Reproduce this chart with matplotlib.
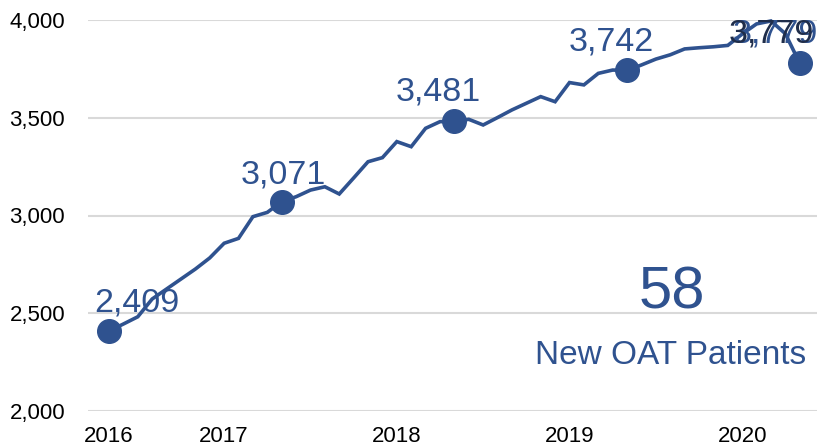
import matplotlib
matplotlib.use("Agg")
import matplotlib.pyplot as plt

plt.rcParams['font.family'] = ['Liberation Sans', 'DejaVu Sans']

# Monthly OAT patient counts (May 2016 .. May 2020)
values = [2409, 2445, 2482, 2573, 2624, 2675, 2726, 2783, 2858, 2883,
          2994, 3016, 3071, 3096, 3130, 3147, 3110, 3192, 3275, 3296,
          3378, 3352, 3446, 3480, 3481, 3492, 3463, 3501, 3540, 3574,
          3608, 3582, 3680, 3668, 3727, 3744, 3742, 3770, 3800, 3822,
          3852, 3858, 3863, 3870, 3928, 3980, 3995, 3930, 3779]
marker_idx = [0, 12, 24, 36, 48]
marker_labels = ["2,409", "3,071", "3,481", "3,742", "3,779"]
label_offsets = [(28, 28), (2, 27), (-16, 29), (-16, 28), (-24, 29)]
year_ticks = [0, 8, 20, 32, 44]
year_labels = ["2016", "2017", "2018", "2019", "2020"]
y_ticks = [2000, 2500, 3000, 3500, 4000]
y_tick_labels = ["2,000", "2,500", "3,000", "3,500", "4,000"]
big_number = "58"
big_caption = "New OAT Patients"

blue = "#2F528F"
dark = "#1F2D4A"

fig = plt.figure(figsize=(8.17, 4.47), dpi=100)
ax = fig.add_axes([88/817, (447-411)/447, 1 - 88/817, (411-20)/447])

x = list(range(len(values)))
ax.plot(x, values, color=blue, lw=2.6, solid_joinstyle='miter', clip_on=False, zorder=3)
ax.plot([x[i] for i in marker_idx], [values[i] for i in marker_idx], 'o',
        color=blue, ms=17, clip_on=False, zorder=4)

for i, lab, (dx, dy) in zip(marker_idx, marker_labels, label_offsets):
    ax.annotate(lab, (x[i], values[i]), xytext=(dx, dy), textcoords='offset pixels',
                ha='center', va='center', fontsize=24.5, color=blue, zorder=5)
# duplicated darker label on the last point
ax.annotate(marker_labels[-1], (x[-1], values[-1]), xytext=(-28, 29),
            textcoords='offset pixels', ha='center', va='center',
            fontsize=24.5, color=dark, zorder=6)

ax.set_xlim(-1.46, 49.2)
ax.set_ylim(2000, 4000)
ax.set_yticks(y_ticks)
ax.set_yticklabels(y_tick_labels)
ax.set_xticks(year_ticks)
ax.set_xticklabels(year_labels)
ax.tick_params(axis='y', length=0, pad=16.5, labelsize=16, labelcolor='black')
ax.tick_params(axis='x', length=0, pad=11, labelsize=16, labelcolor='black')
ax.grid(axis='y', color='#D9D9D9', lw=1.5)
ax.set_axisbelow(True)
for s in ax.spines.values():
    s.set_visible(False)

fig.text(672/817, 1 - 293/447, big_number, ha='center', va='center',
         fontsize=43, color=blue)
fig.text(671/817, 1 - 355/447, big_caption, ha='center', va='center',
         fontsize=24, color=blue)

fig.savefig("out.png", dpi=100)
